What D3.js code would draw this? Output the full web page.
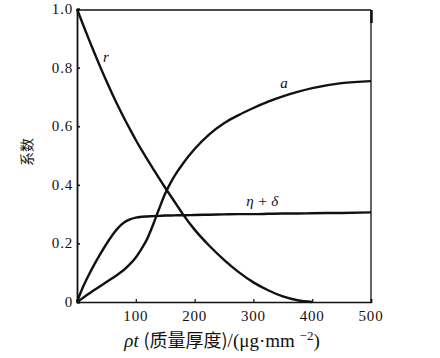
<!DOCTYPE html>
<html>
<head>
<meta charset="utf-8">
<script src="https://cdn.jsdelivr.net/npm/d3@7"></script>
<style>
  html, body { margin: 0; padding: 0; background: #fff; }
  svg { display: block; }
</style>
</head>
<body>
<svg id="chart" width="440" height="358"></svg>
<script>
// ---- data ----
const rhoT     = [0, 10, 20, 30, 40, 50, 60, 70, 80, 90, 100, 110, 120, 130, 140, 150, 160, 170, 180, 200, 225, 250, 275, 300, 325, 350, 375, 400, 450, 500];
const rCoef    = [1.0, 0.948, 0.897, 0.848, 0.80, 0.754, 0.71, 0.668, 0.628, 0.59, 0.553, 0.518, 0.485, 0.453, 0.421, 0.39, 0.36, 0.33, 0.3, 0.247, 0.192, 0.144, 0.102, 0.067, 0.04, 0.019, 0.006, 0.0, null, null];
const aCoef    = [0, 0.014, 0.028, 0.042, 0.055, 0.068, 0.081, 0.095, 0.11, 0.129, 0.152, 0.182, 0.218, 0.267, 0.32, 0.37, 0.41, 0.443, 0.472, 0.522, 0.572, 0.61, 0.638, 0.662, 0.684, 0.702, 0.717, 0.73, 0.747, 0.754];
const etaDelta = [0, 0.05, 0.092, 0.13, 0.165, 0.198, 0.228, 0.253, 0.271, 0.282, 0.288, 0.291, 0.292, 0.293, 0.294, 0.295, 0.295, 0.296, 0.296, 0.297, 0.298, 0.299, 0.3, 0.3, 0.301, 0.302, 0.302, 0.303, 0.304, 0.306];
const xTicks = [100, 200, 300, 400, 500];
const yTicks = [1.0, 0.8, 0.6, 0.4, 0.2, 0];
const yTickLabels = ["1.0", "0.8", "0.6", "0.4", "0.2", "0"];
const seriesLabels = ["r", "a", "η + δ"];

const SERIF = "'Liberation Serif', 'Times New Roman', 'DejaVu Serif', serif";
const CJK = "'Noto Sans CJK SC', sans-serif";

// ---- layout ----
const svg = d3.select("#chart");
const L = 77, R = 371, T = 10, B = 302;
const x = d3.scaleLinear().domain([0, 500]).range([L, R]);
const y = d3.scaleLinear().domain([0, 1]).range([B, T - 1]);

// frame
const frame = svg.append("g").attr("stroke", "#111").attr("fill", "none");
frame.append("line").attr("x1", L).attr("x2", R).attr("y1", T).attr("y2", T).attr("stroke-width", 1.3);
frame.append("line").attr("x1", R).attr("x2", R).attr("y1", T).attr("y2", B).attr("stroke-width", 1.3);
frame.append("line").attr("x1", R + 0.5).attr("x2", R + 0.5).attr("y1", T).attr("y2", T + 13).attr("stroke-width", 2.5);

// axes (ticks pointing inward)
const xAxis = d3.axisTop(x).tickValues(xTicks).tickSize(3).tickFormat("");
const gx = svg.append("g").attr("transform", `translate(0,${B})`).call(xAxis);
gx.select(".domain").attr("stroke", "#111").attr("stroke-width", 1.6);
gx.selectAll(".tick line").attr("stroke", "#111").attr("stroke-width", 1.2);

const yAxis = d3.axisRight(y).tickValues(yTicks).tickSize(3).tickFormat("");
const gy = svg.append("g").attr("transform", `translate(${L},0)`).call(yAxis);
gy.select(".domain").attr("stroke", "#111").attr("stroke-width", 1.8);
gy.selectAll(".tick line").attr("stroke", "#111").attr("stroke-width", 1.6);

// tick labels
svg.append("g").selectAll("text").data(xTicks).join("text")
  .attr("x", d => x(d)).attr("y", 321)
  .attr("text-anchor", "middle").style("font-family", SERIF).attr("font-size", 15).attr("letter-spacing", 0.8)
  .attr("fill", "#111")
  .text(d => d);
svg.append("g").selectAll("text").data(yTicks).join("text")
  .attr("x", 73).attr("y", d => y(d) + 5)
  .attr("text-anchor", "end").style("font-family", SERIF).attr("font-size", 15).attr("letter-spacing", 0.8)
  .attr("fill", "#111")
  .text((d, i) => yTickLabels[i]);

// curves
const line = d3.line()
  .defined(d => d[1] !== null)
  .x(d => x(d[0])).y(d => y(d[1]))
  .curve(d3.curveMonotoneX);
const series = [rCoef, aCoef, etaDelta];
svg.append("g").selectAll("path").data(series).join("path")
  .attr("d", s => line(rhoT.map((t, i) => [t, s[i]])))
  .attr("fill", "none").attr("stroke", "#111").attr("stroke-width", 2.4)
  .attr("stroke-linejoin", "round");

// curve labels
const labelPos = [[49, 0.82], [352, 0.73], [315, 0.327]];
svg.append("g").selectAll("text").data(seriesLabels).join("text")
  .attr("x", (d, i) => x(labelPos[i][0])).attr("y", (d, i) => y(labelPos[i][1]))
  .attr("text-anchor", "middle").style("font-family", SERIF).attr("font-size", 15).attr("font-style", "italic")
  .attr("fill", "#111")
  .text(d => d);

// axis titles
svg.append("text")
  .attr("transform", `translate(32,152) rotate(-90)`)
  .attr("text-anchor", "middle")
  .style("font-family", CJK)
  .attr("font-size", 14).attr("fill", "#111")
  .text("系数");

const xt = svg.append("text").attr("x", 222).attr("y", 347).attr("text-anchor", "middle")
  .style("font-family", SERIF).attr("font-size", 19).attr("fill", "#111");
xt.append("tspan").attr("font-style", "italic").text("ρt ");
xt.append("tspan").style("font-family", CJK).attr("font-size", 18).text("(质量厚度)");
xt.append("tspan").text("/(μg·mm ");
xt.append("tspan").attr("dy", -7).attr("font-size", 13).text("−2");
xt.append("tspan").attr("dy", 7).text(")");
</script>
</body>
</html>
